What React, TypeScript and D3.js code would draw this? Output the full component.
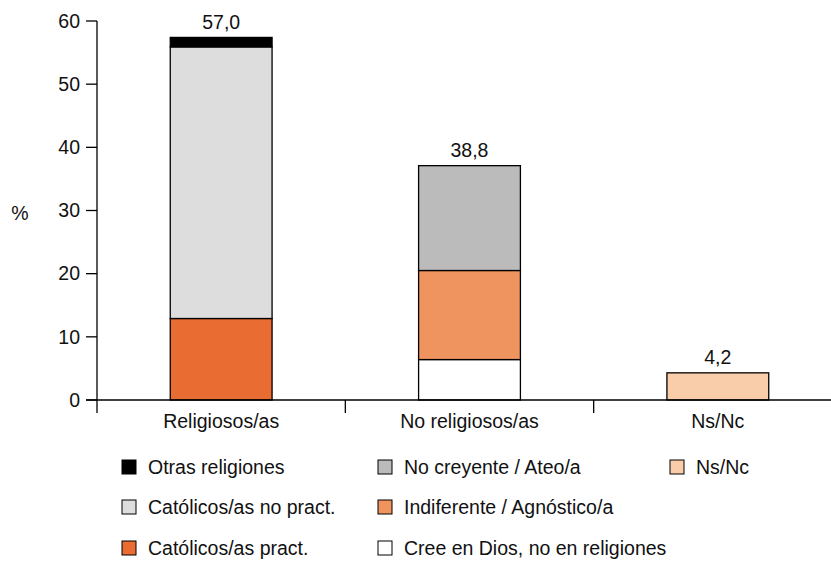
import React from "react";
import * as d3 from "d3";

const categories = ["Religiosos/as", "No religiosos/as", "Ns/Nc"];
const seriesNames = [
  "Católicos/as pract.",
  "Católicos/as no pract.",
  "Otras religiones",
  "Cree en Dios, no en religiones",
  "Indiferente / Agnóstico/a",
  "No creyente / Ateo/a",
  "Ns/Nc",
];
const seriesColors = ["#E96C33", "#DDDDDD", "#000000", "#FFFFFF", "#EF945E", "#BBBBBB", "#F9CDAA"];
// values per series, indexed by category
const catPract = [12.9, 0, 0];
const catNoPract = [43.0, 0, 0];
const otras = [1.5, 0, 0];
const creeDios = [0, 6.4, 0];
const indiferente = [0, 14.1, 0];
const noCreyente = [0, 16.6, 0];
const nsnc = [0, 0, 4.3];
const totalLabels = ["57,0", "38,8", "4,2"];
const yTicks = [0, 10, 20, 30, 40, 50, 60];

const seriesValues = [catPract, catNoPract, otras, creeDios, indiferente, noCreyente, nsnc];

// legend layout: columns of series indices
const legendColumns = [
  [2, 1, 0],
  [5, 4, 3],
  [6],
];

export default function App() {
  const W = 831, H = 572;
  const font = "Liberation Sans, Arial, sans-serif";
  const fs = 19.5;
  const y = d3.scaleLinear().domain([0, 60]).range([400, 21]);
  const x = d3.scaleBand<string>().domain(categories).range([97, 842]).paddingInner(0.59).paddingOuter(0.295);
  const step = x.step();
  const x0 = 97;

  const stackData = categories.map((c, i) => {
    const row: any = { cat: c };
    seriesNames.forEach((s, j) => (row[s] = seriesValues[j][i]));
    return row;
  });
  const stacked = d3.stack<any>().keys(seriesNames)(stackData);
  const totals = categories.map((_, i) => d3.sum(seriesValues, (s) => s[i]));

  const legendX = [122, 378, 670];
  const legendY = [467, 507, 548];

  return (
    <svg width={W} height={H} style={{ position: "absolute", left: 0, top: 0 }} fontFamily={font}>
      <rect width={W} height={H} fill="#fff" />
      {stacked.map((layer, j) =>
        layer.map((d, i) =>
          d[1] - d[0] > 0 ? (
            <rect
              key={`${j}-${i}`}
              x={x(categories[i])!}
              y={y(d[1])}
              width={x.bandwidth()}
              height={y(d[0]) - y(d[1])}
              fill={seriesColors[j]}
              stroke="#000"
              strokeWidth={1.3}
            />
          ) : null
        )
      )}
      {categories.map((c, i) => (
        <text key={c} x={x(c)! + x.bandwidth() / 2} y={y(totals[i]) - 8.5} textAnchor="middle" fontSize={fs} fill="#111">
          {totalLabels[i]}
        </text>
      ))}
      {/* y axis */}
      <line x1={x0} x2={x0} y1={y(60)} y2={413} stroke="#000" strokeWidth={1.3} />
      {yTicks.map((t) => (
        <g key={t}>
          <line x1={86} x2={x0} y1={y(t)} y2={y(t)} stroke="#000" strokeWidth={1.3} />
          <text x={80} y={y(t)} dy="0.35em" textAnchor="end" fontSize={fs} fill="#111">
            {t}
          </text>
        </g>
      ))}
      <text x={20} y={213} dy="0.35em" textAnchor="middle" fontSize={fs} fill="#111">%</text>
      {/* x axis */}
      <line x1={86} x2={W} y1={400} y2={400} stroke="#000" strokeWidth={1.3} />
      {[1, 2].map((k) => (
        <line key={k} x1={x0 + step * k} x2={x0 + step * k} y1={400} y2={413} stroke="#000" strokeWidth={1.3} />
      ))}
      {categories.map((c) => (
        <text key={c} x={x(c)! + x.bandwidth() / 2} y={421} dy="0.35em" textAnchor="middle" fontSize={fs} fill="#111">
          {c}
        </text>
      ))}
      {/* legend */}
      {legendColumns.map((col, ci) =>
        col.map((si, ri) => (
          <g key={`${ci}-${ri}`} transform={`translate(${legendX[ci]},${legendY[ri]})`}>
            <rect x={0} y={-7} width={14} height={14} fill={seriesColors[si]} stroke="#000" strokeWidth={1} />
            <text x={26} y={0} dy="0.35em" fontSize={fs} fill="#111">
              {seriesNames[si]}
            </text>
          </g>
        ))
      )}
    </svg>
  );
}
